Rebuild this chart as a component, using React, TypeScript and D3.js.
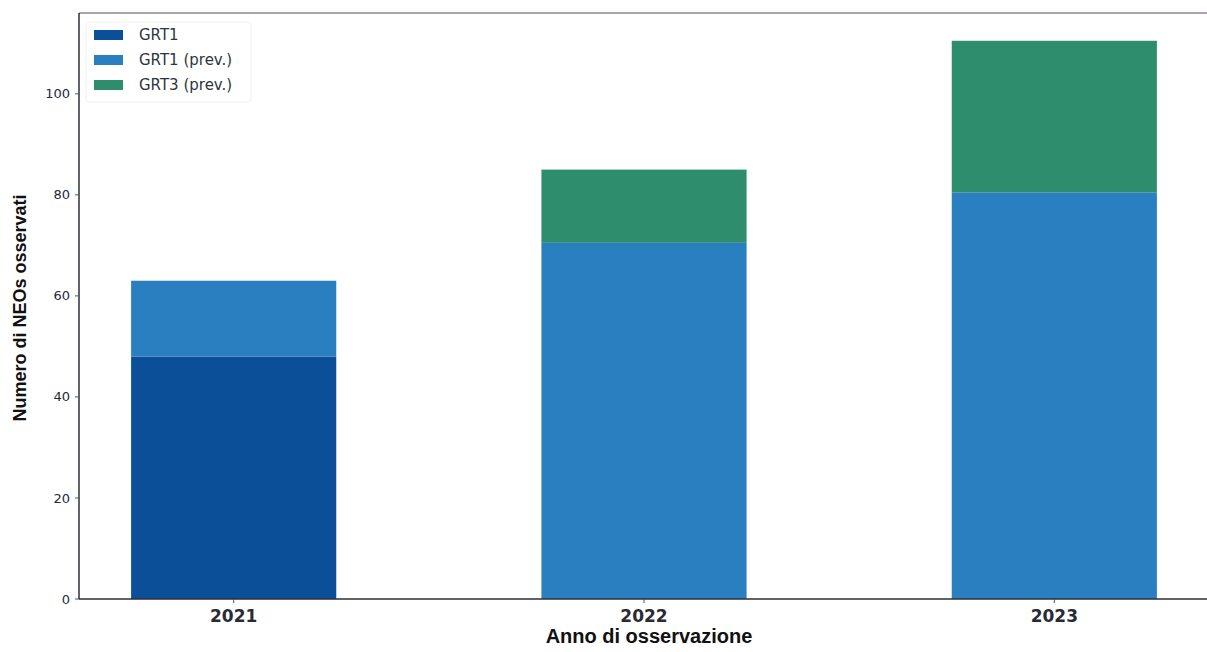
import * as d3 from "d3"

const years = ["2021", "2022", "2023"]
const seriesNames = ["GRT1", "GRT1 (prev.)", "GRT3 (prev.)"]
const grt1 = [48, 0, 0]
const grt1Prev = [15, 70.5, 80.5]
const grt3Prev = [0, 14.5, 30]
const yTicks = [0, 20, 40, 60, 80, 100]
const colors = ["#0b4f99", "#2a7fc0", "#2e8d6c"]

const W = 1207
const H = 652
const margin = { top: 13, right: -2, bottom: 53, left: 79 }

export default function App() {
  const x = d3.scaleBand<string>()
    .domain(years)
    .range([margin.left, W - margin.right])
    .paddingInner(0.5)
    .paddingOuter(0.127)
  const y = d3.scaleLinear().domain([0, 116]).range([H - margin.bottom, margin.top])

  const rows = years.map((yr, i) => ({ year: yr, a: grt1[i], b: grt1Prev[i], c: grt3Prev[i] }))
  const stack = d3.stack<any>().keys(["a", "b", "c"])(rows)

  return (
    <svg width={W} height={H} style={{ position: "absolute", left: 0, top: 0, background: "#fff" }}
      fontFamily="'DejaVu Sans', sans-serif">
      {stack.map((layer, li) => (
        <g key={li} fill={colors[li]}>
          {layer.map((d, i) => d[1] - d[0] > 0 ? (
            <rect key={i} x={x(years[i])} width={x.bandwidth()}
              y={y(d[1])} height={y(d[0]) - y(d[1])} />
          ) : null)}
        </g>
      ))}

      {/* frame */}
      <line x1={margin.left} x2={W} y1={margin.top} y2={margin.top} stroke="#5a4a5e" strokeWidth={1.2} />
      <line x1={margin.left} x2={margin.left} y1={margin.top} y2={H - margin.bottom} stroke="#2e2e38" strokeWidth={1.5} />
      <line x1={margin.left} x2={W} y1={H - margin.bottom} y2={H - margin.bottom} stroke="#2e2e38" strokeWidth={1.5} />

      {/* y ticks */}
      {yTicks.map(t => (
        <g key={t} transform={`translate(${margin.left},${y(t)})`}>
          <line x1={-4} x2={0} stroke="#555" />
          <text x={-9} dy="0.35em" textAnchor="end" fontSize={13} fill="#1e2a3a">{t}</text>
        </g>
      ))}

      {/* x ticks */}
      {years.map(yr => (
        <g key={yr} transform={`translate(${(x(yr) as number) + x.bandwidth() / 2},${H - margin.bottom})`}>
          <line y1={0} y2={4} stroke="#555" />
          <text y={23} textAnchor="middle" fontSize={17} fontWeight="bold" fill="#2a2a35">{yr}</text>
        </g>
      ))}

      <text x={(margin.left + W) / 2 + 6} y={643} textAnchor="middle" fontSize={20} fontWeight="bold"
        fontFamily="'Liberation Sans', Arial, sans-serif" fill="#111">Anno di osservazione</text>
      <text transform={`translate(26,${(margin.top + H - margin.bottom) / 2 + 2}) rotate(-90)`} textAnchor="middle"
        fontSize={18} fontWeight="bold" fontFamily="'Liberation Sans', Arial, sans-serif" fill="#111">Numero di NEOs osservati</text>

      {/* legend */}
      <g transform="translate(86,22)">
        <rect x={0} y={0} width={165} height={80} fill="#fff" fillOpacity={0.8} stroke="#f0f0f0" rx={3} />
        {seriesNames.map((n, i) => (
          <g key={n} transform={`translate(8,${13 + i * 25})`}>
            <rect x={0} y={-5} width={29} height={10} fill={colors[i]} />
            <text x={45} dy="0.35em" fontSize={15} fill="#2d3540">{n}</text>
          </g>
        ))}
      </g>
    </svg>
  )
}
